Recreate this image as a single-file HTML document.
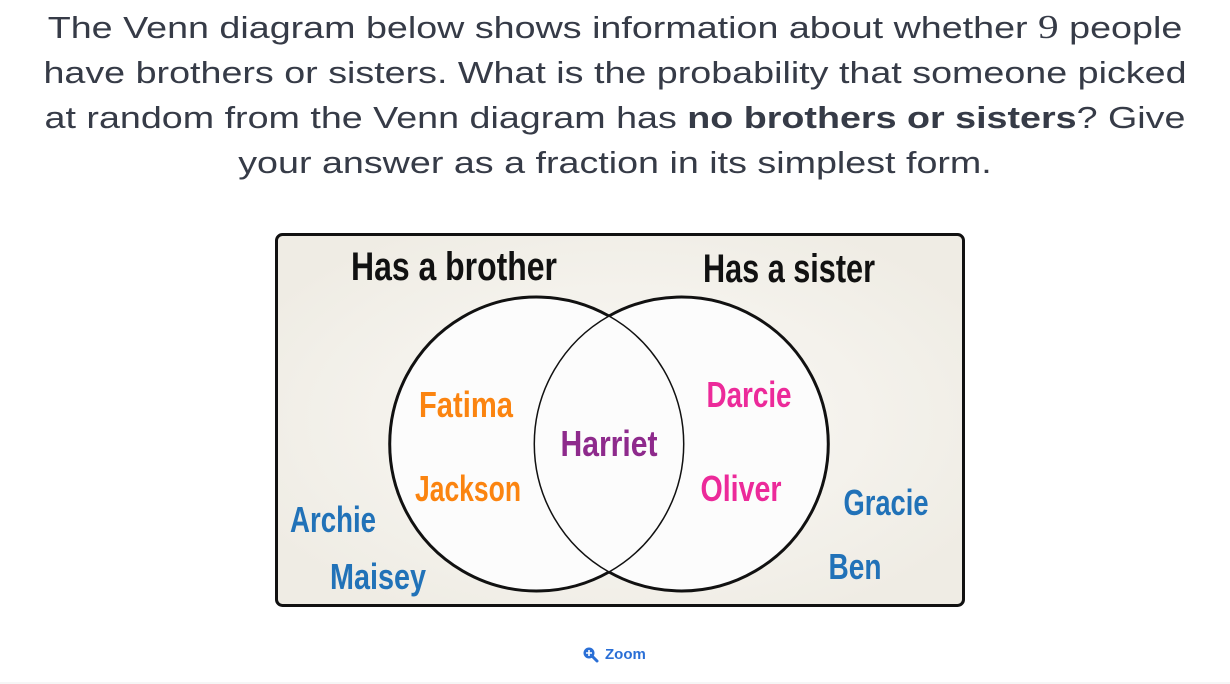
<!DOCTYPE html>
<html><head><meta charset="utf-8"><style>
html,body{margin:0;padding:0;width:1230px;height:684px;background:#fff;overflow:hidden}
.q{position:absolute;left:0;top:5px;width:1230px;text-align:center;font-family:"Liberation Sans",sans-serif;font-size:31px;line-height:45px;color:#363b47;transform:scaleX(1.215);transform-origin:615px 0}
.q b{font-weight:bold}
svg{position:absolute;left:0;top:0}
.n{font-family:"Liberation Sans Narrow","Liberation Sans",sans-serif;font-weight:bold}
.z{position:absolute;top:645px;font-family:"Liberation Sans",sans-serif;font-weight:bold;font-size:15px;color:#2a6fd6}
</style></head><body>
<div class="q">The Venn diagram below shows information about whether <span style="font-family:'Liberation Serif',serif;font-size:34px">9</span> people<br>have brothers or sisters. What is the probability that someone picked<br>at random from the Venn diagram has <b>no brothers or sisters</b>? Give<br>your answer as a fraction in its simplest form.</div>
<svg width="1230" height="684">
<defs><radialGradient id="g" cx="50%" cy="50%" r="60%"><stop offset="0" stop-color="#fbfaf7"/><stop offset="1" stop-color="#efece4"/></radialGradient></defs>
<rect x="276.5" y="234.5" width="687" height="371" rx="6" fill="url(#g)" stroke="#111" stroke-width="3"/>
<circle cx="536" cy="444" r="147" fill="#fcfcfc"/>
<circle cx="682" cy="444" r="147" fill="#fcfcfc"/>
<path d="M609,316 A147,147 0 1 0 609,572" fill="none" stroke="#111" stroke-width="3"/>
<path d="M609,316 A147,147 0 1 1 609,572" fill="none" stroke="#111" stroke-width="3"/>
<path d="M609,316 A147,147 0 0 0 609,572" fill="none" stroke="#111" stroke-width="1.5"/>
<path d="M609,316 A147,147 0 0 1 609,572" fill="none" stroke="#111" stroke-width="1.5"/>
<g class="n" font-size="40">
<text x="454" y="280" text-anchor="middle" fill="#111" textLength="206" lengthAdjust="spacingAndGlyphs">Has a brother</text>
<text x="789" y="282" text-anchor="middle" fill="#111" textLength="172" lengthAdjust="spacingAndGlyphs">Has a sister</text>
</g>
<g class="n" font-size="36">
<text x="466" y="417" text-anchor="middle" fill="#fb8410" textLength="94" lengthAdjust="spacingAndGlyphs">Fatima</text>
<text x="468" y="501" text-anchor="middle" fill="#fb8410" textLength="106" lengthAdjust="spacingAndGlyphs">Jackson</text>
<text x="609" y="456" text-anchor="middle" fill="#8e2a8c" textLength="97" lengthAdjust="spacingAndGlyphs">Harriet</text>
<text x="749" y="407" text-anchor="middle" fill="#ec2a9a" textLength="85" lengthAdjust="spacingAndGlyphs">Darcie</text>
<text x="741" y="501" text-anchor="middle" fill="#ec2a9a" textLength="81" lengthAdjust="spacingAndGlyphs">Oliver</text>
<text x="333" y="532" text-anchor="middle" fill="#2172b8" textLength="86" lengthAdjust="spacingAndGlyphs">Archie</text>
<text x="378" y="589" text-anchor="middle" fill="#2172b8" textLength="96" lengthAdjust="spacingAndGlyphs">Maisey</text>
<text x="886" y="515" text-anchor="middle" fill="#2172b8" textLength="85" lengthAdjust="spacingAndGlyphs">Gracie</text>
<text x="855" y="579" text-anchor="middle" fill="#2172b8" textLength="53" lengthAdjust="spacingAndGlyphs">Ben</text>
</g>
<g transform="translate(589,654)"><circle cx="0" cy="-1" r="5.5" fill="#2a6fd6"/><line x1="4" y1="3" x2="8" y2="7" stroke="#2a6fd6" stroke-width="3" stroke-linecap="round"/><path d="M-3,-1h6M0,-4v6" stroke="#fff" stroke-width="1.6"/></g>
<line x1="0" y1="683" x2="1230" y2="683" stroke="#eee"/>
</svg>
<div class="z" style="left:605px;top:646px">Zoom</div>
</body></html>
